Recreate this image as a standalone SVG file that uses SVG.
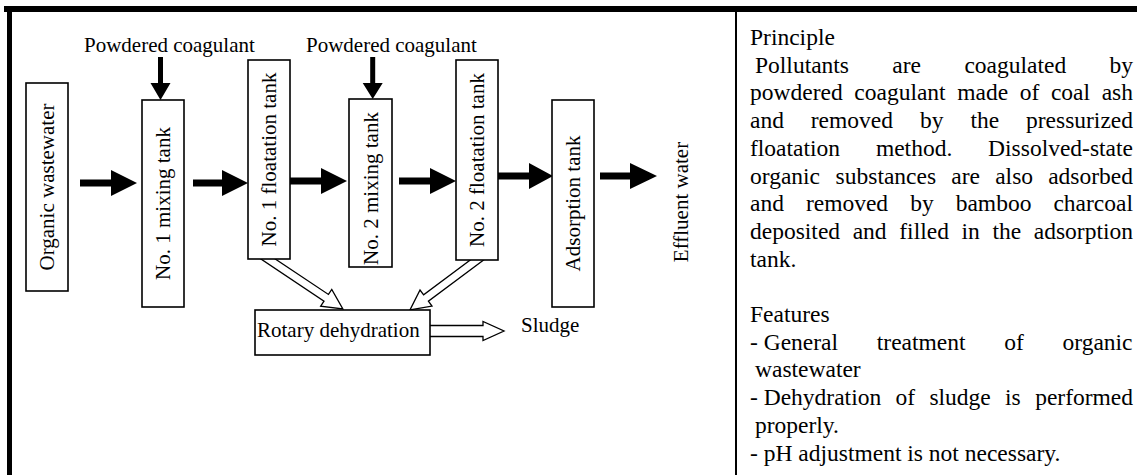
<svg xmlns="http://www.w3.org/2000/svg" width="1137" height="475" viewBox="0 0 1137 475">
<style>
.t{font-family:"Liberation Serif","Times New Roman",serif;font-size:21px;fill:#000}
.p{font-family:"Liberation Serif","Times New Roman",serif;font-size:23.5px;fill:#000}
.box{fill:#fff;stroke:#000;stroke-width:1.6}
.sa{fill:#000;stroke:none}
.ha{fill:#fff;stroke:#000;stroke-width:1.3;stroke-linejoin:miter}
.frame{fill:#000}
</style>
<rect width="1137" height="475" fill="#fff"/>
<g id="frame">
<rect class="frame" x="4" y="6" width="1133" height="6"/>
<rect class="frame" x="7" y="6" width="5" height="469"/>
<rect class="frame" x="735" y="12" width="2" height="463"/>
</g>
<g id="connectors">
<path class="sa" d="M80,179.5 H111 V170 L137,183 L111,196 V186.5 H80 Z"/>
<path class="sa" d="M193,179.5 H222 V170 L248,183 L222,196 V186.5 H193 Z"/>
<path class="sa" d="M290,177.5 H321 V168 L347,181 L321,194 V184.5 H290 Z"/>
<path class="sa" d="M399,177.5 H430 V168 L456,181 L430,194 V184.5 H399 Z"/>
<path class="sa" d="M497,172.5 H529 V163 L553,176 L529,189 V179.5 H497 Z"/>
<path class="sa" d="M600,172.5 H630 V163 L657,176 L630,189 V179.5 H600 Z"/>
<path class="sa" d="M158,57 V83 H150.5 L160.5,100 L170.5,83 H163 V57 Z"/>
<path class="sa" d="M370.2,57 V83 H362.7 L372.7,99 L382.7,83 H375.2 V57 Z"/>
<polygon class="ha" transform="translate(258,252.3) rotate(33.7)" points="0,-4 82,-4 82,-10 102,0 82,10 82,4 0,4"/>
<polygon class="ha" transform="translate(486.6,252.8) rotate(143.27)" points="0,-4 75.6,-4 75.6,-10 95.6,0 75.6,10 75.6,4 0,4"/>
<polygon class="ha" transform="translate(425,331)" points="0,-5.5 58,-5.5 58,-9.5 79,0 58,9.5 58,5.5 0,5.5"/>
</g>
<g id="coagulant1"><text class="t" x="84" y="52">Powdered coagulant</text></g>
<g id="coagulant2"><text class="t" x="306" y="52">Powdered coagulant</text></g>
<g id="organic-wastewater">
<rect class="box" x="26" y="83" width="42" height="208"/>
<text class="t" text-anchor="middle" transform="translate(54,187) rotate(-90)">Organic wastewater</text>
</g>
<g id="mixing1">
<rect class="box" x="142" y="100" width="42" height="207"/>
<text class="t" text-anchor="middle" transform="translate(170,203.5) rotate(-90)">No. 1 mixing tank</text>
</g>
<g id="floatation1">
<rect class="box" x="248" y="60" width="42" height="199"/>
<text class="t" text-anchor="middle" transform="translate(276,159.5) rotate(-90)">No. 1 floatation tank</text>
</g>
<g id="mixing2">
<rect class="box" x="349" y="99" width="43" height="168"/>
<text class="t" text-anchor="middle" transform="translate(377.5,188.5) rotate(-90)">No. 2 mixing tank</text>
</g>
<g id="floatation2">
<rect class="box" x="456" y="60" width="42" height="200"/>
<text class="t" text-anchor="middle" transform="translate(484,160) rotate(-90)">No. 2 floatation tank</text>
</g>
<g id="adsorption">
<rect class="box" x="552" y="100" width="42" height="207"/>
<text class="t" text-anchor="middle" transform="translate(580,203.5) rotate(-90)">Adsorption tank</text>
</g>
<g id="effluent">
<text class="t" text-anchor="middle" transform="translate(688,202) rotate(-90)">Effluent water</text>
</g>
<g id="rotary">
<rect class="box" x="255" y="310" width="175" height="45"/>
<text class="t" x="257" y="337">Rotary dehydration</text>
</g>
<g id="sludge"><text class="t" x="521" y="332">Sludge</text></g>
<g id="panel">
<text class="p" x="750" y="45">Principle</text>
<text class="p" y="72.7"><tspan x="755">Pollutants</tspan><tspan x="892.3">are</tspan><tspan x="964.4">coagulated</tspan><tspan x="1109.5">by</tspan></text>
<text class="p" y="100.4"><tspan x="750">powdered</tspan><tspan x="854.3">coagulant</tspan><tspan x="957.2">made</tspan><tspan x="1019.7">of</tspan><tspan x="1050.9">coal</tspan><tspan x="1101.7">ash</tspan></text>
<text class="p" y="128.1"><tspan x="750">and</tspan><tspan x="810.8">removed</tspan><tspan x="920">by</tspan><tspan x="970.4">the</tspan><tspan x="1026">pressurized</tspan></text>
<text class="p" y="155.8"><tspan x="750">floatation</tspan><tspan x="875.9">method.</tspan><tspan x="988.1">Dissolved-state</tspan></text>
<text class="p" y="183.5"><tspan x="750">organic</tspan><tspan x="835.6">substances</tspan><tspan x="951.3">are</tspan><tspan x="995.2">also</tspan><tspan x="1048.2">adsorbed</tspan></text>
<text class="p" y="211.2"><tspan x="750">and</tspan><tspan x="805.9">removed</tspan><tspan x="910.2">by</tspan><tspan x="955.7">bamboo</tspan><tspan x="1053.4">charcoal</tspan></text>
<text class="p" y="238.9"><tspan x="750">deposited</tspan><tspan x="852.7">and</tspan><tspan x="899.3">filled</tspan><tspan x="961.5">in</tspan><tspan x="992.4">the</tspan><tspan x="1033.8">adsorption</tspan></text>
<text class="p" x="750" y="266.6">tank.</text>
<text class="p" x="750" y="322">Features</text>
<text class="p" y="349.7"><tspan x="750">- General</tspan><tspan x="876.8">treatment</tspan><tspan x="1004.2">of</tspan><tspan x="1062.5">organic</tspan></text>
<text class="p" x="755" y="377.4">wastewater</text>
<text class="p" y="405.1"><tspan x="750">- Dehydration</tspan><tspan x="895.5">of</tspan><tspan x="929.4">sludge</tspan><tspan x="1005.1">is</tspan><tspan x="1035.2">performed</tspan></text>
<text class="p" x="755" y="432.8">properly.</text>
<text class="p" x="750" y="460.5">- pH adjustment is not necessary.</text>
</g>
</svg>
